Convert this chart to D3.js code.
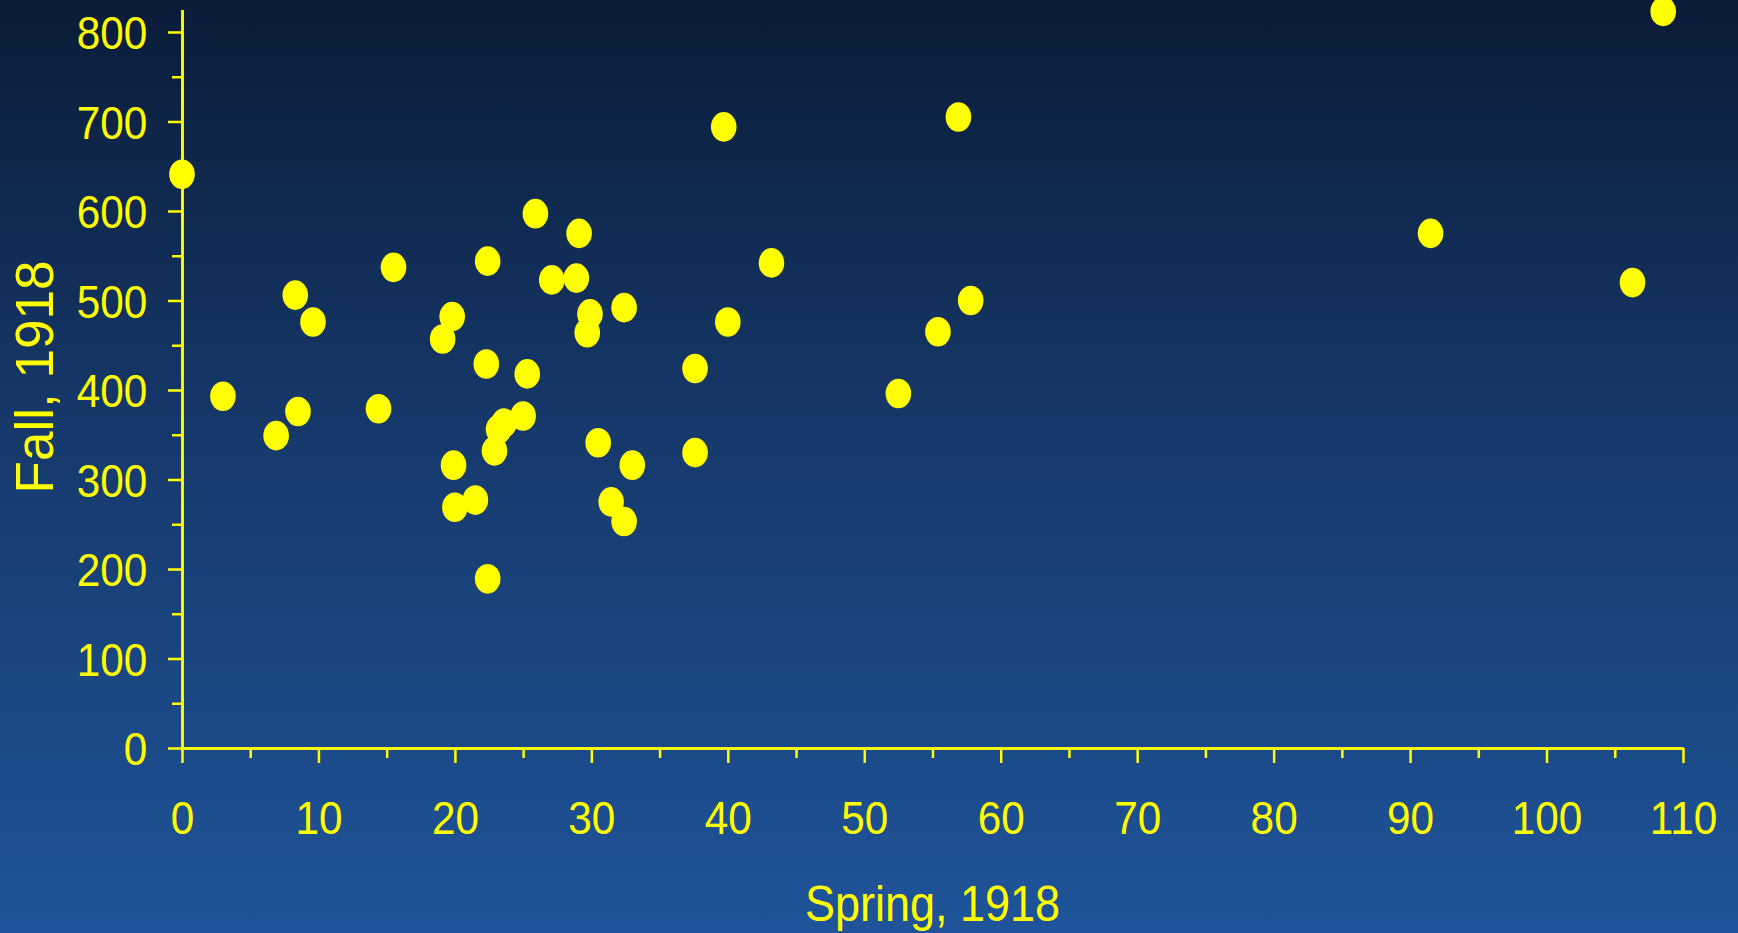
<!DOCTYPE html>
<html>
<head>
<meta charset="utf-8">
<script src="https://cdn.jsdelivr.net/npm/d3@7"></script>
<style>
  html, body { margin: 0; padding: 0; overflow: hidden; background: #0b1c38; }
  svg { display: block; }
  text { font-family: "Liberation Sans", Arial, Helvetica, sans-serif; fill: #ffff00; }
</style>
</head>
<body>
<svg id="chart" width="1738" height="933"></svg>
<script>
// Data: influenza mortality (per 100,000) by city, Spring vs Fall 1918
const springValues = [0, 3.0, 6.9, 8.5, 8.3, 9.6, 14.4, 15.5, 19.1, 19.8, 19.9, 20.0, 21.5, 22.4, 22.3, 22.4, 22.9, 23.2, 23.6, 25.0, 25.3, 25.9, 27.1, 28.9, 29.1, 29.9, 29.7, 30.5, 31.45, 32.4, 32.4, 33.0, 37.6, 37.6, 39.7, 40.0, 43.2, 52.5, 55.4, 56.9, 57.8, 91.5, 106.3, 108.55];
const fallValues   = [641, 393, 349, 376, 506, 476, 379, 537, 457, 482, 316, 269, 277, 544, 429, 189, 332, 356, 363, 371, 418, 597, 523, 525, 575, 485, 464, 341, 275, 253, 492, 316, 424, 330, 694, 476, 542, 396, 465, 705, 500, 575, 520, 823];
const xMajorTicks = [0, 10, 20, 30, 40, 50, 60, 70, 80, 90, 100, 110];
const xMinorTicks = [5, 15, 25, 35, 45, 55, 65, 75, 85, 95, 105];
const yMajorTicks = [0, 100, 200, 300, 400, 500, 600, 700, 800];
const yMinorTicks = [50, 150, 250, 350, 450, 550, 650, 750];
const xTitle = "Spring, 1918";
const yTitle = "Fall, 1918";

const W = 1738, H = 933;
const svg = d3.select("#chart");
const YEL = "#ffff00";

// background gradient
const defs = svg.append("defs");
const grad = defs.append("linearGradient").attr("id", "bg").attr("x1", 0).attr("y1", 0).attr("x2", 0).attr("y2", 1);
grad.append("stop").attr("offset", "0").attr("stop-color", "#0b1c38");
grad.append("stop").attr("offset", "0.5").attr("stop-color", "#173b6f");
grad.append("stop").attr("offset", "1").attr("stop-color", "#1f549a");
svg.append("rect").attr("width", W).attr("height", H).attr("fill", "url(#bg)");

const x = d3.scaleLinear().domain([0, 110]).range([182, 1683]);
const y = d3.scaleLinear().domain([0, 825]).range([748, 9.6]);

const SX = 0.9; // horizontal condensing of labels

// X axis minor
const gxMinor = svg.append("g").attr("transform", `translate(0,${y(0)})`)
  .call(d3.axisBottom(x).tickValues(xMinorTicks).tickSize(10).tickSizeOuter(0).tickFormat(""));
// X axis major
const gx = svg.append("g").attr("transform", `translate(0,${y(0)})`)
  .call(d3.axisBottom(x).tickValues(xMajorTicks).tickSize(15).tickSizeOuter(0).tickFormat(d3.format("d")));
// Y axis minor
const gyMinor = svg.append("g").attr("transform", `translate(${x(0)},0)`)
  .call(d3.axisLeft(y).tickValues(yMinorTicks).tickSize(10).tickSizeOuter(0).tickFormat(""));
// Y axis major
const gy = svg.append("g").attr("transform", `translate(${x(0)},0)`)
  .call(d3.axisLeft(y).tickValues(yMajorTicks).tickSize(14).tickSizeOuter(0).tickFormat(d3.format("d")));

[gxMinor, gx, gyMinor, gy].forEach(g => {
  g.selectAll("path.domain").attr("stroke", YEL).attr("stroke-width", 2.5);
  g.selectAll(".tick line").attr("stroke", YEL).attr("stroke-width", 2.5);
});

gx.selectAll(".tick text")
  .attr("fill", YEL)
  .attr("font-size", 47)
  .attr("font-family", "Liberation Sans, Arial, sans-serif")
  .attr("y", 86).attr("dy", 0)
  .attr("transform", `scale(${SX},1)`);

gy.selectAll(".tick text")
  .attr("fill", YEL)
  .attr("font-size", 47)
  .attr("font-family", "Liberation Sans, Arial, sans-serif")
  .attr("x", -34.7 / SX)
  .attr("dy", "0.36em")
  .attr("transform", `scale(${SX},1)`);

// points
svg.append("g").selectAll("ellipse")
  .data(springValues.map((s, i) => ({ s, f: fallValues[i] })))
  .join("ellipse")
  .attr("cx", d => x(d.s))
  .attr("cy", d => y(d.f))
  .attr("rx", 12.8)
  .attr("ry", 14.8)
  .attr("fill", YEL);

// titles
svg.append("text")
  .attr("transform", `translate(${(x(0) + x(110)) / 2},921) scale(${SX},1)`)
  .attr("text-anchor", "middle")
  .attr("font-size", 50)
  .text(xTitle);

svg.append("text")
  .attr("transform", `translate(53,377) rotate(-90)`)
  .attr("text-anchor", "middle")
  .attr("font-size", 53)
  .text(yTitle);
</script>
</body>
</html>
